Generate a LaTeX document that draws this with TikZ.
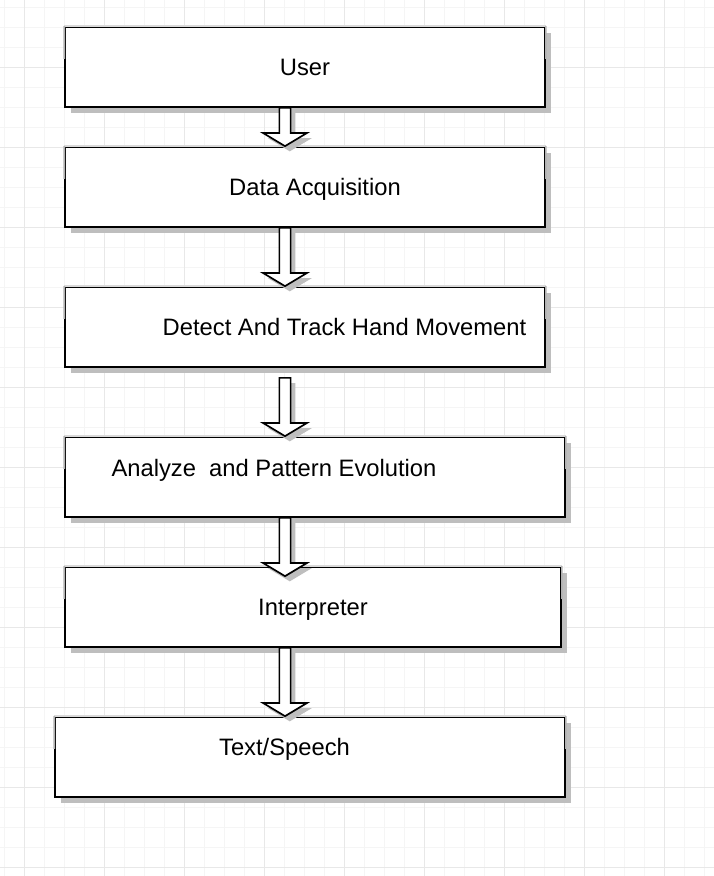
\documentclass[tikz,border=0pt]{standalone}
\usepackage{fontspec}
\setmainfont{Liberation Sans}
\usetikzlibrary{calc, shadows}
\definecolor{gridminor}{RGB}{245,245,245}
\definecolor{gridmajor}{RGB}{232,232,232}
\definecolor{shadowgray}{RGB}{190,190,190}

\begin{document}
\begin{tikzpicture}[
    stepbox/.style={draw=black, line width=1.2pt, fill=white, minimum height=2cm, inner sep=0pt,
        font=\fontsize{16.9}{20}\selectfont, text height=0.6cm, text depth=0.18cm,
        drop shadow={shadow xshift=0.14cm, shadow yshift=-0.16cm, fill=shadowgray, opacity=1}},
    glint/.style={black!15, line width=1.2pt},
    blockarrow/.style={draw=black, line width=1.2pt, fill=white, line join=miter,
        drop shadow={shadow xshift=0.12cm, shadow yshift=-0.13cm, fill=shadowgray, opacity=1},
        to path={let \p1=(\tikztostart), \p2=(\tikztotarget) in
            (\x1-0.14cm,\y1) -- (\x1-0.14cm,\y2+0.33cm) -- (\x1-0.55cm,\y2+0.33cm) -- (\x2,\y2)
            -- (\x1+0.55cm,\y2+0.33cm) -- (\x1+0.14cm,\y2+0.33cm) -- (\x1+0.14cm,\y1) -- cycle}}]

    % page and grid
    \useasboundingbox (0,0) rectangle (17.85,-21.9);
    \fill[white] (0,0) rectangle (17.85,-21.9);
    \begin{scope}
        \clip (0,0) rectangle (17.85,-21.9);
        \draw[gridminor, line width=0.7pt, step=0.5cm, xshift=0.1cm, yshift=-0.175cm] (-1,1) grid (19,-23);
        \draw[gridmajor, line width=0.7pt, step=2cm, xshift=0.6cm, yshift=-1.675cm] (-2,2) grid (18,-22);
    \end{scope}

    % boxes
    \node[stepbox, minimum width=12cm] (user) at (7.625,-1.675) {User};
    \node[stepbox, minimum width=12cm] (data) at (7.625,-4.675) {\hspace*{0.5cm}Data Acquisition};
    \node[stepbox, minimum width=12cm] (detect) at (7.625,-8.175) {\hspace*{1.975cm}Detect And Track Hand Movement};
    \node[stepbox, minimum width=12.5cm, text depth=0.64cm] (analyze) at (7.875,-11.925) {Analyze\ \ and Pattern Evolution\hspace*{2.05cm}};
    \node[stepbox, minimum width=12.4cm] (interp) at (7.825,-15.175) {Interpreter};
    \node[stepbox, minimum width=12.75cm, text depth=0.68cm] (speech) at (7.75,-18.925) {Text/Speech\hspace*{1.275cm}};

    % light upper edges
    \foreach \n in {user, data, detect, analyze, interp, speech} {
        \draw[glint] (\n.north west) -- (\n.north east);
        \draw[glint, black!30] (\n.north west) -- ($(\n.north west)!0.4!(\n.south west)$);
        \draw[glint, black!30] (\n.north east) -- ($(\n.north east)!0.4!(\n.south east)$);
    }

    % arrows
    \coordinate (axis) at (7.125,0);
    \draw[blockarrow] (user.south -| axis) to (data.north -| axis);
    \draw[blockarrow] (data.south -| axis) to (detect.north -| axis);
    \draw[blockarrow] ([yshift=-0.25cm]detect.south -| axis) to (analyze.north -| axis);
    \draw[blockarrow] (analyze.south -| axis) to ([yshift=-0.25cm]interp.north -| axis);
    \draw[blockarrow] (interp.south -| axis) to (speech.north -| axis);
\end{tikzpicture}
\end{document}
